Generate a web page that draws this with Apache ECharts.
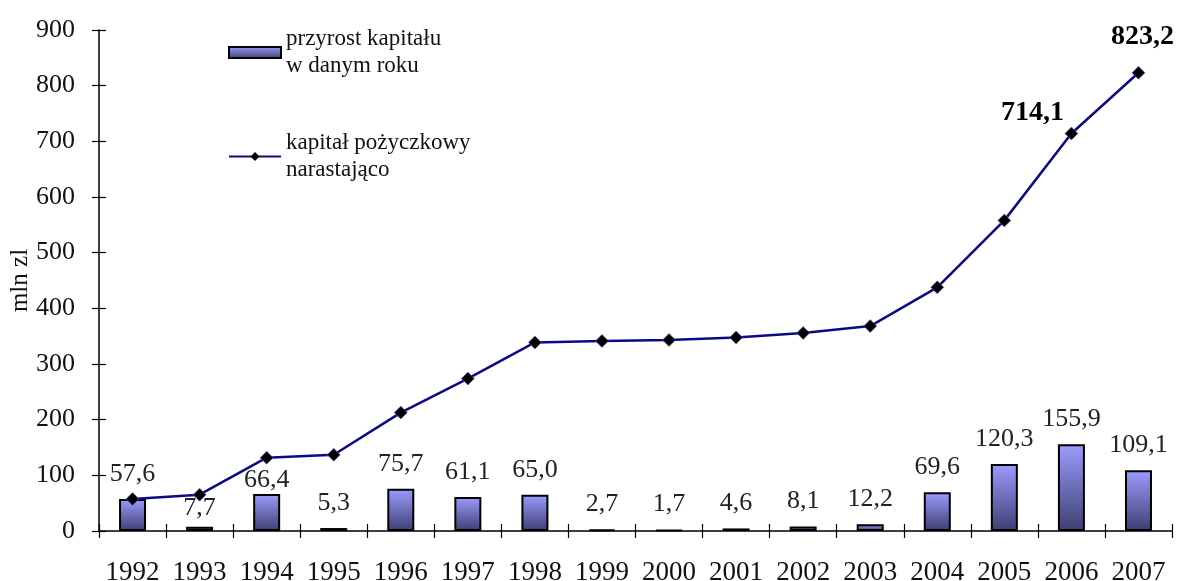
<!DOCTYPE html>
<html>
<head>
<meta charset="utf-8">
<script src="https://cdn.jsdelivr.net/npm/echarts@6/dist/echarts.min.js"></script>
<style>
  html, body { margin: 0; padding: 0; background: #fff; }
  #chart { width: 1179px; height: 581px; }
</style>
</head>
<body>
<div id="chart"></div>
<script>
// dane
var years = ['1992', '1993', '1994', '1995', '1996', '1997', '1998', '1999', '2000', '2001', '2002', '2003', '2004', '2005', '2006', '2007'];
var przyrost = [57.6, 7.7, 66.4, 5.3, 75.7, 61.1, 65.0, 2.7, 1.7, 4.6, 8.1, 12.2, 69.6, 120.3, 155.9, 109.1];
var narastajaco = [57.6, 65.3, 131.7, 137.0, 212.7, 273.8, 338.8, 341.5, 343.2, 347.8, 355.9, 368.1, 437.7, 558.0, 714.1, 823.2];
var yTicks = { min: 0, max: 900, step: 100 };

var nameBar = 'przyrost kapitału\nw danym roku';
var nameLine = 'kapitał pożyczkowy\nnarastająco';

var FONT = '"Liberation Serif", "Times New Roman", serif';

function fmt(v) {
  return v.toFixed(1).replace('.', ',');
}

// przesuniecia etykiet (zeby nie nachodzily na linie)
var labelNudge = { 1: [0, 6], 2: [0, 11] };

var barData = przyrost.map(function (v, i) {
  var item = { value: v };
  if (labelNudge[i]) {
    item.label = { offset: labelNudge[i] };
  }
  return item;
});

var lineLabels = {
  14: { show: true, position: 'top', offset: [-39, 0], distance: 0 },
  15: { show: true, position: 'top', offset: [4, 0], distance: 15 }
};
var lineData = narastajaco.map(function (v, i) {
  var item = { value: v };
  if (lineLabels[i]) {
    item.label = lineLabels[i];
  }
  return item;
});

var chart = echarts.init(document.getElementById('chart'));
var option = {
  backgroundColor: '#fff',
  animation: false,
  textStyle: { fontFamily: FONT },
  grid: { left: 99, right: 7, top: 30, bottom: 50, outerBoundsMode: 'none', containLabel: false },
  legend: {
    orient: 'vertical',
    left: 228,
    top: 12,
    padding: 0,
    itemWidth: 52,
    itemHeight: 11,
    itemGap: 23,
    selectedMode: false,
    data: [
      { name: nameBar, icon: 'rect' },
      { name: nameLine, itemStyle: { color: '#000', borderWidth: 0 } }
    ],
    textStyle: {
      fontFamily: FONT,
      fontSize: 23,
      color: '#111',
      lineHeight: 27,
      padding: [27, 0, 0, 0]
    }
  },
  xAxis: [{
    type: 'category',
    data: years,
    axisLine: { lineStyle: { color: '#000', width: 1.5 } },
    axisTick: { show: true, length: 7, lineStyle: { color: '#000', width: 1.2 } },
    axisLabel: { color: '#111', fontSize: 27, fontFamily: FONT, margin: 28, interval: 0 }
  }, {
    // ticks skierowane do srodka
    type: 'category',
    data: years,
    position: 'bottom',
    axisLine: { show: false },
    axisTick: { show: true, inside: true, length: 7, lineStyle: { color: '#000', width: 1.2 } },
    axisLabel: { show: false }
  }],
  yAxis: [{
    type: 'value',
    min: yTicks.min,
    max: yTicks.max,
    interval: yTicks.step,
    name: 'mln zl',
    nameLocation: 'middle',
    nameGap: 66,
    nameMoveOverlap: false,
    nameTextStyle: { color: '#111', fontSize: 25, fontFamily: FONT },
    splitLine: { show: false },
    axisLine: { show: true, lineStyle: { color: '#000', width: 1.5 } },
    axisTick: { show: true, length: 7, lineStyle: { color: '#000', width: 1.2 } },
    axisLabel: { color: '#111', fontSize: 26, fontFamily: FONT, margin: 24 }
  }, {
    type: 'value',
    min: yTicks.min,
    max: yTicks.max,
    interval: yTicks.step,
    position: 'left',
    splitLine: { show: false },
    axisLine: { show: false },
    axisTick: { show: true, inside: true, length: 7, lineStyle: { color: '#000', width: 1.2 } },
    axisLabel: { show: false }
  }],
  series: [
    {
      name: nameBar,
      type: 'bar',
      data: barData,
      barWidth: 27,
      itemStyle: {
        borderColor: '#000',
        borderWidth: 2,
        color: new echarts.graphic.LinearGradient(0, 0, 0, 1, [
          { offset: 0, color: '#9c9cff' },
          { offset: 1, color: '#3e3e72' }
        ])
      },
      label: {
        show: true,
        position: 'top',
        distance: 12,
        color: '#222',
        fontSize: 26,
        fontFamily: FONT,
        formatter: function (p) { return fmt(p.value); }
      },
      z: 2
    },
    {
      name: nameLine,
      type: 'line',
      data: lineData,
      symbol: 'diamond',
      symbolSize: 13,
      itemStyle: { color: '#000', borderColor: '#6a6ae0', borderWidth: 0.6 },
      lineStyle: { color: '#0a0a86', width: 2.5 },
      label: {
        show: false,
        color: '#000',
        fontSize: 28,
        fontWeight: 'bold',
        fontFamily: FONT,
        formatter: function (p) { return fmt(p.value); }
      },
      z: 3
    }
  ]
};
chart.setOption(option);

window.addEventListener('resize', function () {
  chart.resize();
});
</script>
</body>
</html>
